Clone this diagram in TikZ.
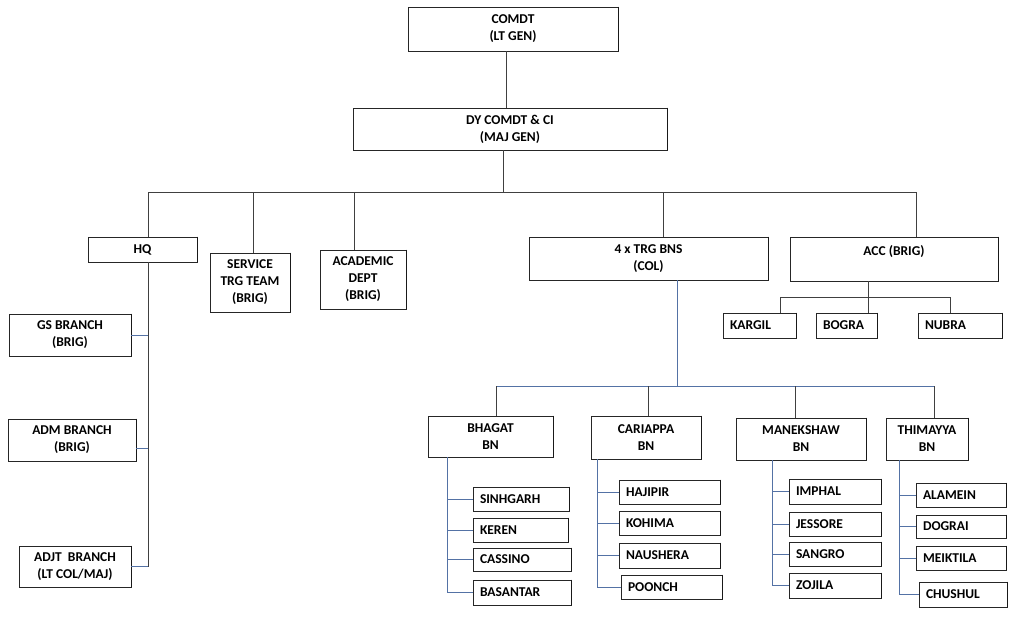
\documentclass[tikz,border=0pt]{standalone}
\usepackage{fontspec}
\setmainfont{Carlito}
\definecolor{bl}{RGB}{84,114,165}
\begin{document}
\begin{tikzpicture}[x=1pt,y=-1pt,
  box/.style={draw=black!85,line width=0.8pt,fill=white,inner sep=0pt,align=center,
    font=\fontsize{13.5}{17}\selectfont\bfseries},
  lbox/.style={box,align=left,inner xsep=7pt},
  edge/.style={draw=black!90,line width=1.8pt},
  mainln/.style={draw=black!75,line width=0.8pt},
  blueln/.style={draw=bl,line width=0.8pt}]
\fill[white] (0,0) rectangle (1024,618);
\useasboundingbox (0,0) rectangle (1024,618);
\newcommand\cbox[6]{\node[box,minimum width={#4-#2},minimum height={#5-#3}] (#1) at ({(#2+#4)/2},{(#3+#5)/2}) {#6};
  \draw[edge] (#1.north east) -- (#1.south east);}
\newcommand\lbx[6]{\node[lbox,text width={#4-#2-14},minimum height={#5-#3}] (#1) at ({(#2+#4)/2},{(#3+#5)/2}) {#6};
  \draw[edge] (#1.north east) -- (#1.south east);}
% coordinates
\coordinate (c1) at (506,0);
\coordinate (bus) at (503,192);
\coordinate (bL) at (148,192);
\coordinate (bS) at (253,192);
\coordinate (bA) at (354,192);
\coordinate (bT) at (663,192);
\coordinate (bR) at (916,192);
\coordinate (ax1) at (780,297);
\coordinate (ax2) at (868,297);
\coordinate (ax3) at (950,297);
\coordinate (tx) at (677,386);
\coordinate (lb1) at (496,386);
\coordinate (lb2) at (648,386);
\coordinate (lb3) at (795,386);
\coordinate (lb4) at (934,386);
\coordinate (bhx) at (447,0);
\coordinate (cax) at (597,0);
\coordinate (max) at (772,0);
\coordinate (thx) at (899,0);
\draw[mainln] (bL) -- (bR);
% boxes
\cbox{comdt}{408}{7}{618}{51}{COMDT\\(LT GEN)}
\cbox{dy}{353}{108}{667}{150}{DY COMDT \& CI\\(MAJ GEN)}
\cbox{hq}{88}{237}{197}{262}{HQ}
\cbox{svc}{210}{253}{290}{312}{SERVICE\\TRG TEAM\\(BRIG)}
\cbox{acad}{320}{250}{406}{309}{ACADEMIC\\DEPT\\(BRIG)}
\cbox{trg}{529}{237}{768}{280}{4 x TRG BNS\\(COL)}
\cbox{acc}{790}{237}{998}{281}{ACC (BRIG)\\\phantom{X}}
\lbx{kargil}{723}{313}{796}{338}{KARGIL}
\lbx{bogra}{816}{313}{877}{338}{BOGRA}
\lbx{nubra}{918}{313}{1002}{338}{NUBRA}
\cbox{gs}{9}{314}{131}{356}{GS BRANCH\\(BRIG)}
\cbox{adm}{8}{419}{136}{461}{ADM BRANCH\\(BRIG)}
\cbox{adjt}{19}{546}{131}{587}{ADJT~ BRANCH\\(LT COL/MAJ)}
\cbox{bhagat}{428}{416}{553}{457}{BHAGAT\\BN}
\cbox{cari}{591}{416}{701}{459}{CARIAPPA\\BN}
\cbox{manek}{736}{418}{866}{460}{MANEKSHAW\\BN}
\cbox{thim}{886}{418}{968}{460}{THIMAYYA\\BN}
\lbx{sinh}{473}{487}{569}{511}{SINHGARH}
\lbx{keren}{473}{518}{568}{542}{KEREN}
\lbx{cass}{473}{548}{571}{571}{CASSINO}
\lbx{basa}{473}{580}{571}{605}{BASANTAR}
\lbx{haji}{619}{480}{720}{504}{HAJIPIR}
\lbx{kohi}{619}{511}{720}{535}{KOHIMA}
\lbx{naus}{619}{543}{720}{568}{NAUSHERA}
\lbx{poon}{621}{575}{722}{599}{POONCH}
\lbx{imph}{789}{479}{881}{504}{IMPHAL}
\lbx{jess}{789}{512}{881}{536}{JESSORE}
\lbx{sang}{789}{542}{881}{566}{SANGRO}
\lbx{zoji}{789}{573}{881}{598}{ZOJILA}
\lbx{alam}{916}{483}{1006}{507}{ALAMEIN}
\lbx{dogr}{916}{515}{1006}{538}{DOGRAI}
\lbx{meik}{916}{546}{1006}{570}{MEIKTILA}
\lbx{chus}{919}{582}{1007}{607}{CHUSHUL}
% top connectors
\draw[mainln] (comdt.south -| c1) -- (dy.north -| c1);
\draw[mainln] (dy.south -| bus) -- (bus);
\draw[mainln] (bL) -- (hq.north -| bL);
\draw[mainln] (bS) -- (svc.north -| bS);
\draw[mainln] (bA) -- (acad.north -| bA);
\draw[mainln] (bT) -- (trg.north -| bT);
\draw[mainln] (bR) -- (acc.north -| bR);
% HQ branches
\draw[mainln] (hq.south -| bL) -- (adjt.east -| bL);
\draw[blueln] (gs.east) -- (gs.east -| bL);
\draw[blueln] ([yshift=-8pt]adm.east) -- ([yshift=-8pt]adm.east -| bL);
\draw[blueln] (adjt.east) -- (adjt.east -| bL);
% ACC
\draw[mainln] (ax1) -- (ax3);
\draw[mainln] (acc.south -| ax2) -- (bogra.north -| ax2);
\draw[mainln] (ax1) -- (kargil.north -| ax1);
\draw[mainln] (ax3) -- (nubra.north -| ax3);
% TRG BNs
\draw[blueln] (trg.south -| tx) -- (tx);
\draw[blueln] (lb1) -- (lb4);
\draw[mainln] (lb1) -- (bhagat.north -| lb1);
\draw[mainln] (lb2) -- (cari.north -| lb2);
\draw[mainln] (lb3) -- (manek.north -| lb3);
\draw[mainln] (lb4) -- (thim.north -| lb4);
% BN sub-units
\draw[blueln] (bhagat.south -| bhx) -- (basa.west -| bhx);
\foreach \n in {sinh,keren,cass,basa} \draw[blueln] (\n.west -| bhx) -- (\n.west);
\draw[blueln] (cari.south -| cax) -- (poon.west -| cax);
\foreach \n in {haji,kohi,naus,poon} \draw[blueln] (\n.west -| cax) -- (\n.west);
\draw[blueln] (manek.south -| max) -- (zoji.west -| max);
\foreach \n in {imph,jess,sang,zoji} \draw[blueln] (\n.west -| max) -- (\n.west);
\draw[blueln] (thim.south -| thx) -- (chus.west -| thx);
\foreach \n in {alam,dogr,meik,chus} \draw[blueln] (\n.west -| thx) -- (\n.west);
\end{tikzpicture}
\end{document}
